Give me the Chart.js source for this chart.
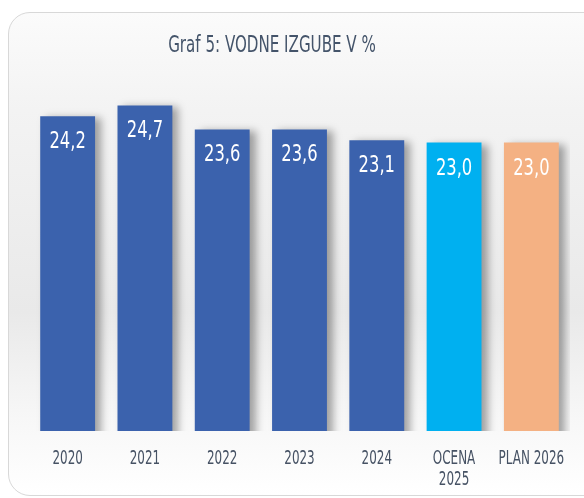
<!DOCTYPE html>
<html>
<head>
<meta charset="utf-8">
<script src="https://cdn.jsdelivr.net/npm/chart.js@4/dist/chart.umd.min.js"></script>
<style>
    body { margin: 0; background: #ffffff; }
    #wrap { position: relative; width: 584px; height: 498px; overflow: hidden; }
    #card {
        position: absolute; left: 8px; top: 12px; width: 620px; height: 482px;
        border: 1px solid #d8d8d8; border-radius: 22px;
        background: linear-gradient(to bottom, #fbfbfb 0%, #f3f3f3 20%, #e9e9e9 62%, #f7f7f7 84%, #ffffff 100%);
    }
    #chart { position: absolute; left: 0; top: 0; }
</style>
</head>
<body>
<div id="wrap">
    <div id="card"></div>
    <canvas id="chart" width="584" height="498"></canvas>
</div>
<script>
    // Podatki
    const categories = ['2020', '2021', '2022', '2023', '2024', ['OCENA', '2025'], 'PLAN 2026'];
    const losses = [24.2, 24.7, 23.6, 23.6, 23.1, 23.0, 23.0];
    const barColors = ['#3b62ad', '#3b62ad', '#3b62ad', '#3b62ad', '#3b62ad', '#00b0f0', '#f4b183'];
    const chartTitle = 'Graf 5: VODNE IZGUBE V %';
    const yMin = 9.8;
    const yMax = 26;

    const fontFamily = '"DejaVu Sans Condensed", "DejaVu Sans", sans-serif';

    // ozka pisava: vodoravno stisnjeno besedilo
    function narrowText(ctx, text, x, y, size, sx, color) {
        ctx.save();
        ctx.fillStyle = color;
        ctx.font = size + 'px ' + fontFamily;
        ctx.textAlign = 'center';
        ctx.textBaseline = 'middle';
        ctx.translate(x, y);
        ctx.scale(sx, 1);
        ctx.fillText(text, 0, 0);
        ctx.restore();
    }

    // Senca za stolpce
    const barShadow = {
        id: 'barShadow',
        beforeDatasetsDraw(chart) {
            const ctx = chart.ctx;
            ctx.save();
            ctx.shadowColor = 'rgba(0, 0, 0, 0.35)';
            ctx.shadowBlur = 8;
            ctx.shadowOffsetX = 6;
            ctx.shadowOffsetY = 2;
        },
        afterDatasetsDraw(chart) {
            chart.ctx.restore();
        }
    };

    // Vrednosti znotraj stolpcev
    const valueLabels = {
        id: 'valueLabels',
        afterDatasetsDraw(chart) {
            const meta = chart.getDatasetMeta(0);
            meta.data.forEach((bar, i) => {
                const txt = losses[i].toFixed(1).replace('.', ',');
                narrowText(chart.ctx, txt, bar.x, bar.y + 26, 23, 0.79, '#ffffff');
            });
        }
    };

    // Oznake kategorij in naslov
    const axisText = {
        id: 'axisText',
        afterDraw(chart) {
            const ctx = chart.ctx;
            const xScale = chart.scales.x;
            const bottom = chart.chartArea.bottom;
            categories.forEach((lab, i) => {
                const x = xScale.getPixelForTick(i);
                const lines = Array.isArray(lab) ? lab : [lab];
                lines.forEach((line, j) => {
                    narrowText(ctx, line, x, bottom + 28 + j * 21, 19, 0.7, '#465264');
                });
            });
            narrowText(ctx, chartTitle, 272, 46, 23, 0.73, '#44546a');
        }
    };

    const ctx = document.getElementById('chart').getContext('2d');
    new Chart(ctx, {
        type: 'bar',
        data: {
            labels: categories,
            datasets: [{
                data: losses,
                backgroundColor: barColors,
                borderWidth: 0,
                barPercentage: 0.71,
                categoryPercentage: 1
            }]
        },
        options: {
            responsive: false,
            animation: false,
            devicePixelRatio: 1,
            layout: {
                padding: { top: 77, left: 29, right: 14, bottom: 59 }
            },
            plugins: {
                legend: { display: false },
                title: { display: false },
                tooltip: { enabled: false }
            },
            scales: {
                x: {
                    grid: { display: false },
                    border: { display: false },
                    ticks: { display: false }
                },
                y: {
                    display: false,
                    min: yMin,
                    max: yMax
                }
            }
        },
        plugins: [barShadow, valueLabels, axisText]
    });
</script>
</body>
</html>
